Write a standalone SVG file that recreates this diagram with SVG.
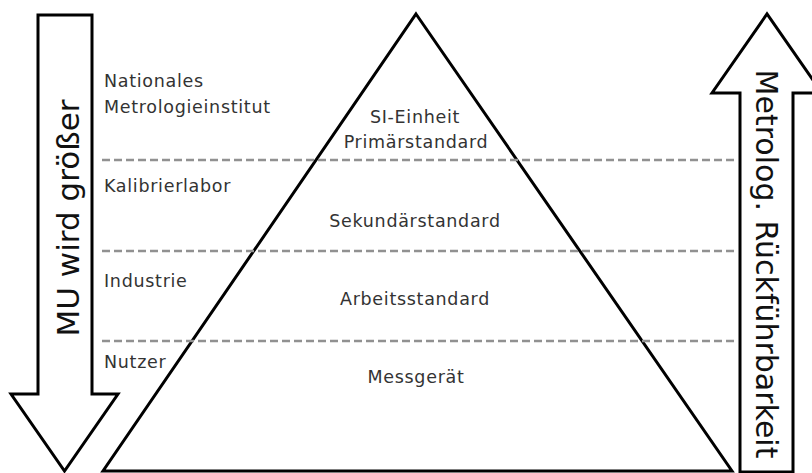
<svg xmlns="http://www.w3.org/2000/svg" width="812" height="473" viewBox="0 0 812 473">
<style>
.shape{fill:#fff;stroke:#000;stroke-width:3;stroke-linejoin:miter}
.dash{stroke:#919191;stroke-width:2.5;stroke-dasharray:8 4;fill:none}
.lbl{font-family:"DejaVu Sans","Liberation Sans",sans-serif;font-size:17.5px;fill:#333;letter-spacing:0.7px}
.mid{text-anchor:middle}
.big{font-family:"DejaVu Sans","Liberation Sans",sans-serif;font-size:31px;fill:#111;text-anchor:middle}
</style>
<rect width="812" height="473" fill="#fff"/>
<g id="arrow-down">
<polygon class="shape" points="38,15 92,15 92,394 118,394 64.5,471 11,394 38,394"/>
<text class="big" transform="translate(78.5,218) rotate(-90)">MU wird größer</text>
</g>
<g id="arrow-up">
<polygon class="shape" points="740,472 740,93 712,93 767,14 822,93 793,93 793,472"/>
<text class="big" style="font-size:30px" transform="translate(755.5,264) rotate(90)">Metrolog. Rückführbarkeit</text>
</g>
<g id="pyramid">
<polygon class="shape" points="416,14 732,471 103,471"/>
</g>
<g id="connectors">
<line class="dash" x1="102" y1="160" x2="734" y2="160"/>
<line class="dash" x1="102" y1="251" x2="734" y2="251"/>
<line class="dash" x1="102" y1="341" x2="734" y2="341"/>
</g>
<g id="level1">
<text class="lbl" x="104" y="87">Nationales</text>
<text class="lbl" x="104" y="113">Metrologieinstitut</text>
<text class="lbl mid" x="415" y="123">SI-Einheit</text>
<text class="lbl mid" x="416" y="148">Primärstandard</text>
</g>
<g id="level2">
<text class="lbl" x="104" y="192">Kalibrierlabor</text>
<text class="lbl mid" x="415" y="227">Sekundärstandard</text>
</g>
<g id="level3">
<text class="lbl" x="104" y="287">Industrie</text>
<text class="lbl mid" x="415" y="305">Arbeitsstandard</text>
</g>
<g id="level4">
<text class="lbl" x="104" y="368">Nutzer</text>
<text class="lbl mid" x="416" y="383">Messgerät</text>
</g>
</svg>
